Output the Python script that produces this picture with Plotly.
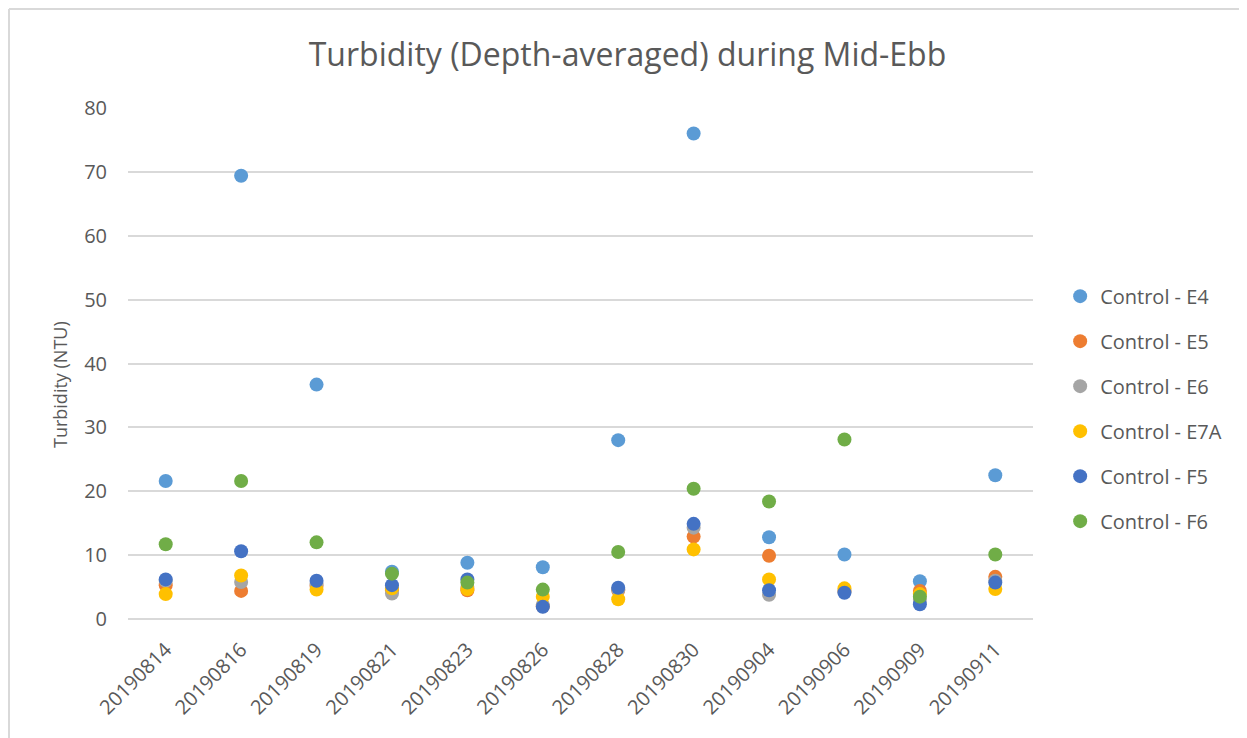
import plotly.graph_objects as go

dates = ['20190814', '20190816', '20190819', '20190821', '20190823', '20190826',
         '20190828', '20190830', '20190904', '20190906', '20190909', '20190911']

e4 = [21.6, 69.4, 36.7, 7.4, 8.8, 8.1, 28.0, 76.0, 12.8, 10.1, 5.9, 22.5]
e5 = [5.3, 4.4, 5.2, 4.5, 4.5, 2.0, 4.5, 12.9, 9.9, 4.4, 4.4, 6.6]
e6 = [6.0, 5.8, 5.5, 4.0, 5.0, 2.2, 4.6, 14.3, 3.8, 4.3, 3.0, 6.0]
e7a = [3.9, 6.8, 4.6, 4.8, 4.7, 3.5, 3.1, 10.9, 6.2, 4.8, 3.9, 4.7]
f5 = [6.2, 10.6, 6.0, 5.3, 6.2, 1.9, 4.9, 14.9, 4.5, 4.1, 2.3, 5.7]
f6 = [11.7, 21.6, 12.0, 7.1, 5.7, 4.6, 10.5, 20.4, 18.4, 28.1, 3.5, 10.1]

series = [
    ('Control - E4', e4, '#5b9bd5'),
    ('Control - E5', e5, '#ed7d31'),
    ('Control - E6', e6, '#a5a5a5'),
    ('Control - E7A', e7a, '#ffc000'),
    ('Control - F5', f5, '#4472c4'),
    ('Control - F6', f6, '#70ad47'),
]

font = 'Open Sans, sans-serif'
grey = '#595959'

fig = go.Figure()
for i, (name, vals, color) in enumerate(series):
    fig.add_trace(go.Scatter(
        x=dates, y=vals, mode='markers', name=name, legendgroup=f'g{i}',
        marker=dict(size=14, color=color, line=dict(width=0)),
    ))

# outer chart frame, only top and left edges are visible (page has an 8px body margin)
frame_x0 = -119 / 905
frame_y1 = 1 + 99 / 511
fig.add_shape(type='line', xref='paper', yref='paper',
              x0=frame_x0, x1=1.3, y0=frame_y1, y1=frame_y1,
              line=dict(color='#d9d9d9', width=2), layer='below')
fig.add_shape(type='line', xref='paper', yref='paper',
              x0=frame_x0, x1=frame_x0, y0=-0.3, y1=frame_y1,
              line=dict(color='#d9d9d9', width=2), layer='below')

# y axis title, placed like Excel does
fig.add_annotation(text='Turbidity (NTU)', textangle=-90, showarrow=False,
                   xref='paper', yref='paper', x=-0.0751, y=0.458,
                   xanchor='center', yanchor='middle',
                   font=dict(family=font, size=18, color=grey))

fig.update_layout(
    width=1239, height=730,
    plot_bgcolor='white', paper_bgcolor='white',
    margin=dict(l=120, r=214, t=100, b=119, autoexpand=False),
    title=dict(text='Turbidity (Depth-averaged) during Mid-Ebb',
               x=0.5, xref='container', xanchor='center',
               y=1 - 47 / 730, yref='container', yanchor='middle',
               font=dict(family=font, size=32, color=grey)),
    font=dict(family=font, color=grey),
    legend=dict(x=1.03, y=0.67, yanchor='top', xanchor='left',
                font=dict(family=font, size=20, color=grey),
                tracegroupgap=16, itemwidth=30),
    showlegend=True,
)
fig.update_xaxes(
    type='category', range=[-0.5, 11.5], tickangle=-45, showgrid=False,
    zeroline=False, showline=False, tickfont=dict(size=20, color=grey),
    ticks='outside', ticklen=10, tickcolor='rgba(0,0,0,0)', automargin=False,
)
fig.update_yaxes(
    range=[0, 80], dtick=10, showgrid=True, gridcolor='#d9d9d9', gridwidth=1.5,
    zeroline=True, zerolinecolor='#d9d9d9', zerolinewidth=1.5,
    showline=False, tickfont=dict(size=20, color=grey),
    ticks='outside', ticklen=16, tickcolor='rgba(0,0,0,0)', automargin=False,
)

fig.write_html('out.html')
